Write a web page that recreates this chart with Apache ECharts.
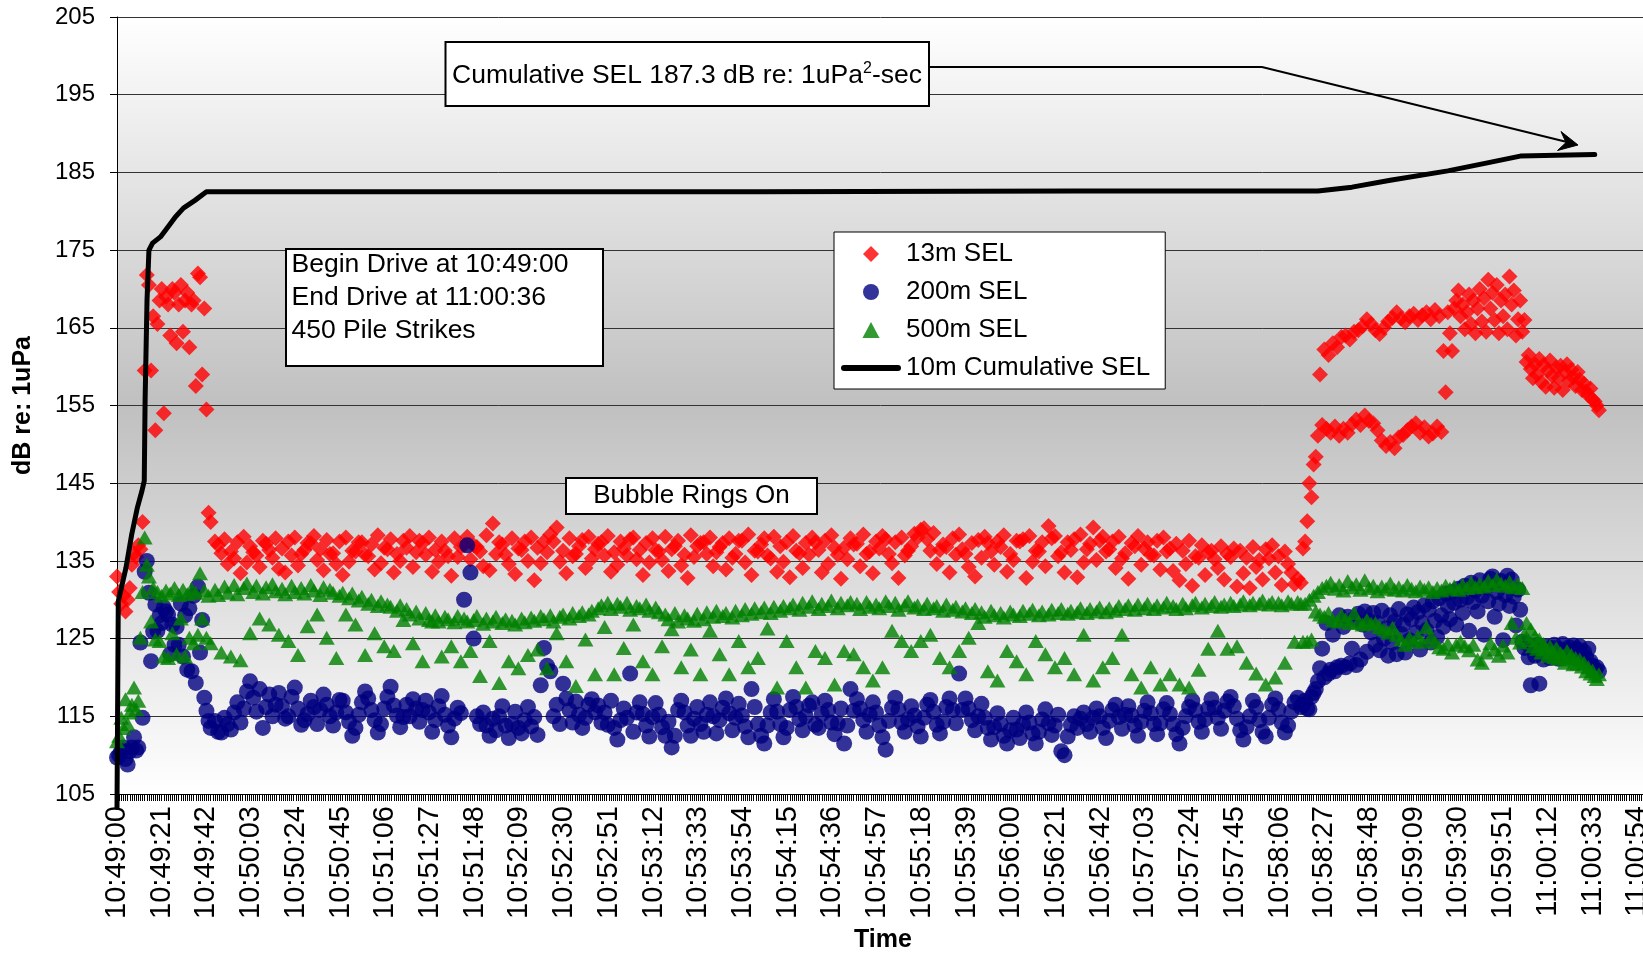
<!DOCTYPE html>
<html>
<head>
<meta charset="utf-8">
<script src="https://cdn.jsdelivr.net/npm/echarts@6.0.0/dist/echarts.min.js"></script>
<style>
  html, body { margin: 0; padding: 0; background: #fff; }
  #chart { width: 1643px; height: 955px; }
</style>
</head>
<body>
<div id="chart"></div>
<script>
// ---------- tick labels ----------
const timeTickLabels = ['10:49:00','10:49:21','10:49:42','10:50:03','10:50:24','10:50:45','10:51:06','10:51:27','10:51:48','10:52:09','10:52:30','10:52:51','10:53:12','10:53:33','10:53:54','10:54:15','10:54:36','10:54:57','10:55:18','10:55:39','10:56:00','10:56:21','10:56:42','10:57:03','10:57:24','10:57:45','10:58:06','10:58:27','10:58:48','10:59:09','10:59:30','10:59:51','11:00:12','11:00:33','11:00:54'];

// ---------- strike times (seconds after 10:49:00) ----------
const earlySec = [0,1,2,3,4,5,6,7,8,9,10,11,12,13,14,15,16,17,18,19,20,21,22,23,24,25,26,27,28,29,30,31,32,33,34,35,36,37,38,39,40,41,42,43,44];
const mainSec = [
46,47.5,49,50.5,52,53.5,55,56.5,58,59.5,61,62.5,64,65.5,67,68.5,70,71.5,73,74.5,
76,77.5,79,80.5,82,83.5,85,86.5,88,89.5,91,92.5,94,95.5,97,98.5,100,101.5,103,104.5,
106,107.5,109,110.5,112,113.5,115,116.5,118,119.5,121,122.5,124,125.5,127,128.5,130,131.5,133,134.5,
136,137.5,139,140.5,142,143.5,145,146.5,148,149.5,151,152.5,154,155.5,157,158.5,160,161.5,163,164.5,
166,167.5,169,170.5,172,173.5,175,176.5,178,179.5,181,182.5,184,185.5,187,188.5,190,191.5,193,194.5,
196,197.5,199,200.5,202,203.5,205,206.5,208,209.5,211,212.5,214,215.5,217,218.5,220,221.5,223,224.5,
226,227.5,229,230.5,232,233.5,235,236.5,238,239.5,241,242.5,244,245.5,247,248.5,250,251.5,253,254.5,
256,257.5,259,260.5,262,263.5,265,266.5,268,269.5,271,272.5,274,275.5,277,278.5,280,281.5,283,284.5,
286,287.5,289,290.5,292,293.5,295,296.5,298,299.5,301,302.5,304,305.5,307,308.5,310,311.5,313,314.5,
316,317.5,319,320.5,322,323.5,325,326.5,328,329.5,331,332.5,334,335.5,337,338.5,340,341.5,343,344.5,
346,347.5,349,350.5,352,353.5,355,356.5,358,359.5,361,362.5,364,365.5,367,368.5,370,371.5,373,374.5,
376,377.5,379,380.5,382,383.5,385,386.5,388,389.5,391,392.5,394,395.5,397,398.5,400,401.5,403,404.5,
406,407.5,409,410.5,412,413.5,415,416.5,418,419.5,421,422.5,424,425.5,427,428.5,430,431.5,433,434.5,
436,437.5,439,440.5,442,443.5,445,446.5,448,449.5,451,452.5,454,455.5,457,458.5,460,461.5,463,464.5,
466,467.5,469,470.5,472,473.5,475,476.5,478,479.5,481,482.5,484,485.5,487,488.5,490,491.5,493,494.5,
496,497.5,499,500.5,502,503.5,505,506.5,508,509.5,511,512.5,514,515.5,517,518.5,520,521.5,523,524.5,
526,527.5,529,530.5,532,533.5,535,536.5,538,539.5,541,542.5,544,545.5,547,548.5,550,551.5,553,554.5,
556];
const lateSec = [
557,558,559,560,561,562,563,564,565,566,
567,568,569,570,571,572,573,574,575,576,
577,578,579,580,581,582,583,584,585,586,
587,588,589,590,591,592,593,594,595,596,
597,598,599,600,601,602,603,604,605,606,
607,608,609,610,611,612,613,614,615,616,
617,618,619,620,621,622,623,624,625,626,
627,628,629,630,631,632,633,634,635,636,
637,638,639,640,641,642,643,644,645,646,
647,648,649,650,651,652,653,654,655,656,
657,658,659,660,661,662,663,664,665,666,
667,668,669,670,671,672,673,674,675,676,
677,678,679,680,681,682,683,684,685,686,
687,688,689,690,691,692,693,694,695,696];

// ---------- 13m SEL ----------
const sel13Early = [133,131,129.5,130.5,128.5,130,131.5,134.5,136,135.5,137,136.5,140,159.5,171.8,170.5,159.5,166.5,151.8,165.5,168.5,170,154,169,168,164,170,169.5,163,168,170.5,164.5,168.5,169.5,162.5,168,168.5,157.5,172,171.5,159,167.5,154.5,141.2,140];
const sel13Main = [
137.5,137,136,137.8,134.6,136.2,135.3,137.4,133.4,138.1,134.8,136.9,136.1,135.7,134.2,137.6,137.2,136.4,135.4,137.9,
134,136.6,133.5,137.5,135.7,138,134.4,135.9,136.4,137.3,137.3,138.2,135.1,136.5,133.8,137.7,135.9,136,134.6,137.5,
133.2,138,134.9,136.3,136.2,137.4,137.4,135.8,135.6,137.1,133.9,138.3,134.7,136.7,136.5,137.8,133.5,135.9,135,137.6,
136.7,138.2,134.2,136.1,137.6,137.3,135.8,138,133.6,136.4,134.9,137.5,136.3,135.6,133.1,137.9,135.5,136.8,137,138.1,
135.2,137,136.8,136.2,134.3,138.3,133.8,139.8,135.9,137.4,137.1,135.8,134.6,137.9,133.3,136.6,136.4,137.5,135,138,
132.5,136.7,134.7,137.5,136.1,138.4,137.5,139.3,134.9,136.3,133.4,137.9,135.6,135.9,136.9,137.7,134.1,138.1,135.3,136.5,
137.2,137.4,135.7,138.2,133.6,136.1,134.5,137.5,136.6,135.7,137.8,138,135.2,136.4,133.2,137.3,134.8,137.9,136.4,136.2,
135.1,138.1,133.7,136.5,136.9,137.6,134.4,135.8,132.8,138.3,135.5,136.9,137.3,137.4,135.9,138,134.3,136.1,136.8,137.3,
133.9,137.9,135.4,135.9,137.6,137.6,134.8,138.4,133.2,136.3,136.2,137.1,137.9,135.7,135.3,138.1,133.6,136.9,134.9,137.4,
132.9,138.2,136.3,136,134.1,137.3,135.8,138,137.4,136.4,133.5,137.6,134.6,138.3,136.7,135.8,132.7,136.7,135.2,137.9,
137.1,137.2,134.3,138.4,135.9,136.2,133.4,137.5,136.6,138.2,137.8,135.9,134.7,137.4,132.8,138,135.7,136.3,136.9,138.5,
138,139,139.2,137.8,136.3,138.6,134.6,136.4,137.1,136.8,133.5,137.9,135.8,138.4,136.5,135.9,134.2,137.3,133,137.7,
135.4,138.1,137.3,136.2,134.5,137.5,136.8,138.3,133.6,135.9,135.1,137.6,137.5,137.8,132.8,138.2,134.9,136.3,136.2,137.4,
134.3,139.5,137.9,138.2,135.6,136.1,133.5,137.4,136.4,137.8,132.9,138.4,134.8,136.5,137.2,139.3,135.1,137.6,138.1,136.2,
136.5,137.5,134.1,138.1,135.3,136,132.7,137.3,136.9,138.2,134.5,136.6,137.4,135.8,135.7,137.6,133.9,138,136.2,136.6,
133.7,137.2,132.5,136.3,134.6,137.6,131.8,135.6,135.4,137,133.2,136.1,136.3,135.2,134.1,136.9,132.6,135.9,135.5,136.6,
131.7,136.3,133.4,135.4,131.5,136.8,134.2,135.1,132.6,136.5,135.3,137,133.5,135.6,131.9,136.2,134.6,133.5,132,132.7,
132.2];
const sel13Late = [
136.6,137.5,140.1,145,143.2,147.4,148.4,151.1,159,152.5,
162.2,152,161.5,151.5,163,152.3,162.5,151.1,163.8,152,
164,151.5,163.5,152.6,164.5,153.2,164.7,152.5,165.2,153.7,
166.1,153,165.5,152.7,164.7,151.8,164.2,150.5,165,149.8,
165.8,150.3,166.3,149.5,167,150.9,166.2,151.2,165.7,151.8,
166.5,152.3,166.8,152.7,166,151.5,166.6,152.2,167,151,
166.1,151.4,167.3,152.3,166.5,151.6,162,156.7,167,164.3,
162,167.5,168.5,169.8,166.5,168,164.8,167,169.3,165.5,
168.5,164.3,167.5,170,165.8,168.8,164.5,171.2,167.5,169.5,
166,170.5,164.3,168.5,166.5,169.3,164.8,171.6,168,169.8,
164,166.1,168.5,164.5,166,160.6,161.5,159.7,158.5,160.3,
159,161,158,160.2,157.4,159.5,160.8,158.8,157.3,159.9,
158.5,160.1,157,159.3,160.3,158.2,159.6,158.6,157.5,159.3,
158.3,157,157.8,156.8,156.3,157.2,155.8,155.5,155,154.4];

// ---------- 200m SEL ----------
const sel200Early = [109.7,110,110.5,111,109.5,108.8,110.5,111,112.3,110.6,111,124.5,114.8,133.6,135,130.9,122.1,125.9,129.4,126,128,127,129,128.5,128.1,123,126.8,124.2,126.5,124.2,129.5,122.7,128,121,128.9,120.8,130.5,119.3,131.7,123.2,127.4,117.4,115.7,114.4,113.5];
const sel200Main = [
114.4,113,112.9,114.8,114,113.3,115.5,116.8,114.2,116,118.2,119.5,117.4,115.6,118.5,113.5,116.2,117.8,115,116.5,
118,116.3,114.7,115,117.5,118.7,116,113.9,114.5,115.3,117,116.2,114,115.8,117.8,116.5,115,113.8,115.5,117.1,
117,115.5,114.3,112.5,113.5,115.2,116.8,118.2,117.3,115.8,114.5,112.9,114,116,117.5,118.8,116.4,115.1,113.6,114.9,
116.5,115,117.2,116,114.3,115.8,117,115.5,113,114.5,116.3,117.6,115.2,113.8,112.3,114.7,116.1,115.4,130,137,
133.5,125,115,114,115.5,113.8,112.5,114.7,113.2,115,116.3,113.8,112.2,114,115.6,113.5,112.8,114.5,116.2,113.7,
114.9,112.6,119,123.8,121.5,120.8,115,116.5,114,119.2,117.3,115.8,114.2,116.9,115.2,113.5,114.8,116.5,117.2,115.5,
116.4,114.2,115.5,113.9,117,113.5,112,114.5,116,114.8,120.5,113,115.5,116.8,115.3,113.8,112.4,114.9,116.7,115.2,
113.6,112.5,114.3,111,112.5,115.8,117,115.5,113.8,112.5,114.7,116.2,114,113,115.2,116.8,115,112.8,114.5,116.1,
117.3,115.4,113.2,114.8,116.6,115.1,113.7,112.3,118.5,116.2,114,112.5,111.5,113.8,115.5,117.2,115.6,114,112.3,113.5,
115.8,117.5,116.2,114.6,113.2,115,116.4,116.8,113.9,113.5,115.3,117,115.8,114.2,112.7,114.1,116,111.5,113.8,118.5,
115.7,117.2,116,114.5,113,115.2,116.8,115.5,113.8,112.3,110.7,114.4,116.1,117.4,115.9,114.2,113,114.6,116.3,115.1,
113.7,112.4,114.8,116.5,117.1,115.6,113.9,112.8,114.3,116.2,117.3,115.8,114.1,120.5,115.8,117.3,116,114.5,113.2,115,
116.6,114.8,113.5,112,113.6,115.4,114,112.5,111.5,113.2,114.8,113.3,112.2,114,115.5,114.2,112.8,111.5,113,114.6,
115.9,114.1,112.6,113.8,115.2,110.5,110,112.4,113.9,115,113.5,114.7,115.5,114,113,114.8,116,115,113.5,112.2,
114.4,115.8,116.5,114.9,113.4,115.2,116.3,115.1,113.8,112.5,114.3,115.7,116.8,115.4,114,112.7,114.1,115.9,116.7,115.3,
114,112.7,111.5,113.5,115,116.2,117,115.8,114.3,113,114.6,116,117.2,116.1,114.8,113.4,115.7,116.9,117.5,116.3,
114.7,113.2,112,113.6,115,117,116.2,114.5,113,112.4,114.8,116.5,117.3,115.9,114.2,112.9,113.8,115.6,116.8,117.4,
116.2];
const sel200Late = [
116.5,117,116,115.9,117.5,118,118.5,119.5,121.2,123.7,
120,127,120.5,121,125.5,120.8,121.3,128,121.5,126.5,
121.3,127.8,121.8,123.7,127.5,121.6,128.2,122.3,126.8,128.5,
123.3,127.3,125.8,128.3,124.2,127,123.5,128.6,125,126.3,
122.8,128,124.5,127.2,123,128.8,125.6,126.8,123.2,128.1,
124.8,127.5,129,125.8,128.4,123.6,127,129.3,126.1,128.7,
124.5,129.8,127.3,125.2,130.2,128,126.5,130.8,129.2,127.5,
131,129.6,126.8,131.4,130,128.3,131.8,130.3,126,132.2,
129.7,131.2,128.5,132.5,130.5,125.5,131.6,129.8,132.7,133,
127.8,131,129.5,132.4,124.8,130.6,133.1,129.2,132.6,130.4,
126.7,131.3,128.7,124.6,123.8,124.4,122.6,119,123.9,122.8,
124.2,119.2,123.5,122.3,124,123.3,122.5,123.8,124.2,123.1,
122.4,123.6,124.3,123,122.7,123.9,123.4,124.1,122.9,123.6,
124,122.8,123.3,122.5,123.7,122.1,121.5,121,121.3,120.8];

// ---------- 500m SEL ----------
const sel500Early = [111.8,112.5,114.8,113.5,117.2,114,115.5,116.5,118.7,115.9,117,125.1,131,138,134.5,133,127.2,131.5,124.9,131,124.7,130.5,122.7,131.2,122.5,130.8,125.7,131.5,123,130.6,127.6,131.3,122.7,130.7,125.1,131.4,124.4,130.9,125.5,133.4,127.6,131.2,125.1,130.5,124.4];
const sel500Main = [
131.3,130.6,123.2,131.7,130.9,122.7,131.9,130.7,122.2,131.5,132.1,125.7,131,131.8,127.6,130.8,131.6,126.8,132,131.1,
125.5,131.4,130.7,124.7,131.8,131,122.9,131.5,130.8,126.6,131.9,131.2,128.1,130.6,131.6,125.1,131.3,130.9,122.5,130.5,
130.9,128.1,130.2,130.8,126.8,129.9,130.4,122.9,129.5,130,125.7,129.2,129.8,124,129.4,129.1,123.4,128.6,129.3,127.4,
128.8,128.1,124.4,128.5,127.6,122.1,128.3,127.4,127.2,128,127.2,122.7,127.8,127.5,124,127.1,127.9,122.1,127.6,127.2,
123.4,127.4,127.9,120.2,126.9,127.6,124.7,127.2,127.8,119.3,127,127.5,122.1,127.3,126.8,121.2,127.6,127.1,122.9,127.7,
127.3,123.6,127.9,127.5,121.2,128,127.2,125.7,127.8,128.1,122.1,127.6,128.3,118.9,127.9,128.4,124.9,128.1,128.6,120.4,
128.9,129.3,126.5,129.6,128.8,120.4,129.5,129.1,123.8,129.6,128.7,126.8,129.2,128.9,122.1,129.4,128.6,120.4,129,128.4,
124,128.1,127.5,126.2,128.3,127.2,121.3,128,127.6,123.6,127.3,128.2,120.4,127.5,128.4,126,127.8,128.6,123,127.9,
128.3,120.4,127.7,128.6,124.7,128,128.8,121.3,128.2,128.9,122.5,128.4,129,126.3,128.3,129.1,118.7,128.6,129.2,124.7,
128.9,129.4,121.3,128.7,129.6,118.7,129.1,129.8,123.4,128.8,129.5,122.5,129.2,129.9,119.1,128.9,129.6,123.4,129.3,129.7,
123,129.5,128.8,121.3,129.7,129.1,119.6,129.4,128.9,121.3,129.8,129.2,126,129.6,128.7,124.7,129.3,129.8,123.4,129,
129.3,124.7,128.8,129.5,125.5,128.9,129.2,122.5,128.6,129.4,121.3,128.7,129.1,123.4,128.5,128.9,125.1,128.3,128.8,127,
128.4,127.8,120.8,128.6,128,119.6,128.3,127.7,123.4,128.5,128.1,122.1,127.9,128.6,120.4,128.2,128.7,124.7,128,128.5,
123,128.1,128.7,121.3,128.3,128.8,122.5,128.2,128.6,120.4,128.4,128.9,125.5,128.3,128.8,119.6,128.5,129,121.3,128.4,
128.9,122.5,128.6,129.2,125.5,128.8,129.3,120.4,128.7,129.4,118.7,128.9,129.5,121.3,128.8,129.3,119.1,129,129.6,120.4,
129.2,128.8,119.1,129.5,128.9,118.7,129.3,129.6,121,129,129.5,123.7,129.2,129.7,126,129.1,129.4,123.7,129.6,129.2,
124,129.4,129.8,121.9,129.3,129.6,120.5,129.5,129.9,119.1,129.4,129.7,120,129.6,129.3,121.9,129.8,129.5,124.6,129.7,
129.5];
const sel500Late = [
124.6,129.5,124.6,130,124.9,130.5,128.5,131,128.1,131.5,
127.8,131.8,128.3,132.2,127.4,131.4,127.2,131.9,128,131.2,
127.5,132.4,127,131.6,128.3,132,127.1,131.3,126.8,132.5,
127.4,131.5,126.9,131.8,127,131.1,126.5,131.7,126.2,131.4,
125.8,132.1,126.4,131.3,125.5,131.6,124.9,131.2,124.2,131.9,
125.1,131.4,124.6,131.1,125.3,131.7,124.6,131.3,126.5,131.6,
125.2,131,124.6,131.5,123.9,131.2,123.7,131.8,124.3,131.4,
123.2,131.7,124.2,131.3,124.6,131.9,124,131.5,123.5,132.2,
124.2,131.6,122.3,132,121.9,131.7,123.2,132.4,124.4,131.9,
123.6,132.6,122.8,132.1,124.1,131.8,123.2,132.3,127,131.6,
125.1,132,124.5,131.5,125.6,127,124.8,126.2,124,125.3,
123.7,124.9,123.2,124.3,123.7,122.8,124,123.3,122.6,123.8,
122.4,123.1,122.8,121.9,123.4,122.3,122.9,121.7,122.5,121.8,
122.3,121.4,121.9,120.8,121.3,120.5,120.9,120.2,119.8,120.4];

// ---------- 10m cumulative SEL ----------
const cumSec = [0,0.6,4.2,6.9,9.6,11.7,12.8,13.2,14.1,15,16.7,20.4,24,27.5,31.2,36.6,42,150,300,450,564,580,598,625,643,659,676,694];
const cumSel = [103.3,129.8,134.1,138.4,141.9,144,145.3,155.7,168.6,175,175.9,176.7,178,179.3,180.4,181.4,182.5,182.5,182.5,182.6,182.6,183.1,184,185.2,186.2,187.1,187.2,187.3];

// ---------- build ----------
const FONT = '"Liberation Sans", Arial, Helvetica, sans-serif';
const strikeSec = earlySec.concat(mainSec, lateSec);
const zip = (vals) => strikeSec.map((t, i) => [t, vals[i]]);
const d13 = zip(sel13Early.concat(sel13Main, sel13Late));
const d200 = zip(sel200Early.concat(sel200Main, sel200Late));
const d500 = zip(sel500Early.concat(sel500Main, sel500Late));
const dCum = cumSec.map((t, i) => [t, cumSel[i]]);

const chart = echarts.init(document.getElementById('chart'), null, { renderer: 'canvas' });

const option = {
  animation: false,
  backgroundColor: '#ffffff',
  textStyle: { fontFamily: FONT, color: '#000' },
  grid: {
    left: 117, top: 17, width: 1565, height: 777,
    outerBoundsMode: 'none', containLabel: false,
    show: true, borderWidth: 0,
    backgroundColor: new echarts.graphic.LinearGradient(0, 0, 0, 1, [
      { offset: 0, color: '#ffffff' },
      { offset: 0.5, color: '#c0c0c0' },
      { offset: 1, color: '#ffffff' }
    ])
  },
  xAxis: {
    type: 'value', min: 0, max: 735, interval: 21,
    axisLine: { show: true, onZero: false, lineStyle: { color: '#000', width: 1 } },
    axisTick: { show: true, length: 7, lineStyle: { color: '#000', width: 1 } },
    minorTick: { show: true, splitNumber: 21, length: 7, lineStyle: { color: '#000', width: 1 } },
    splitLine: { show: false },
    axisLabel: {
      rotate: 90, fontSize: 29, color: '#000', margin: 12, fontFamily: FONT,
      formatter: (v) => (v % 21 === 0 && v / 21 < timeTickLabels.length) ? timeTickLabels[v / 21] : ''
    }
  },
  yAxis: {
    type: 'value', min: 105, max: 205, interval: 10,
    name: 'dB re: 1uPa', nameLocation: 'middle', nameRotate: 90, nameGap: 81,
    nameTextStyle: { fontSize: 25, fontWeight: 'bold', color: '#000', fontFamily: FONT },
    axisLine: { show: true, lineStyle: { color: '#000', width: 1 } },
    axisTick: { show: true, length: 7, lineStyle: { color: '#000' } },
    splitLine: { show: true, lineStyle: { color: '#333', width: 1 } },
    axisLabel: { fontSize: 24, color: '#000', margin: 22, fontFamily: FONT }
  },
  legend: {
    orient: 'vertical', left: 834, top: 232,
    padding: [9, 15, 8, 7], itemGap: 12, itemWidth: 60, itemHeight: 16,
    symbolKeepAspect: true,
    backgroundColor: '#ffffff', borderColor: '#000', borderWidth: 1,
    textStyle: { fontSize: 26, color: '#000', fontFamily: FONT },
    data: [
      { name: '13m SEL', icon: 'path://M0,-8 L8,0 L0,8 L-8,0 Z' },
      { name: '200m SEL', icon: 'circle' },
      { name: '500m SEL', icon: 'path://M0,-8 L8,7 L-8,7 Z' },
      { name: '10m Cumulative SEL', icon: 'path://M3,0 L57,0 A3,3 0 0 1 57,6 L3,6 A3,3 0 0 1 3,0 Z' }
    ]
  },
  series: [
    { name: '13m SEL', type: 'scatter', symbol: 'diamond', symbolSize: 16,
      itemStyle: { color: '#ff0000' }, data: d13 },
    { name: '200m SEL', type: 'scatter', symbol: 'circle', symbolSize: 16,
      itemStyle: { color: '#000080' }, data: d200 },
    { name: '500m SEL', type: 'scatter', symbol: 'triangle', symbolSize: [16, 14],
      itemStyle: { color: '#008000' }, data: d500 },
    { name: '10m Cumulative SEL', type: 'line', symbol: 'none', showSymbol: false, clip: false,
      lineStyle: { color: '#000', width: 5, cap: 'round', join: 'round' },
      itemStyle: { color: '#000' }, data: dCum }
  ],
  graphic: [
    { type: 'rect', z: 100, shape: { x: 445.5, y: 42, width: 483.5, height: 64 },
      style: { fill: '#fff', stroke: '#000', lineWidth: 2 } },
    { type: 'text', z: 101, x: 452, y: 76,
      style: {
        text: '{a|Cumulative SEL 187.3 dB re: 1uPa}{s|2}{a|-sec}',
        verticalAlign: 'middle', align: 'left',
        rich: {
          a: { fontSize: 26.5, fontFamily: FONT, fill: '#000' },
          s: { fontSize: 16, fontFamily: FONT, fill: '#000', padding: [0, 0, 14, 0] }
        }
      } },
    { type: 'polyline', z: 100, shape: { points: [[929, 67], [1262, 67], [1568, 142.3]] },
      style: { stroke: '#000', lineWidth: 2, fill: null } },
    { type: 'polygon', z: 100, shape: { points: [[1578, 145], [1561, 131.5], [1566, 142.6], [1557.5, 150.5]] },
      style: { fill: '#000', stroke: '#000', lineWidth: 1 } },
    { type: 'rect', z: 100, shape: { x: 286, y: 249, width: 317, height: 117 },
      style: { fill: '#fff', stroke: '#000', lineWidth: 2 } },
    { type: 'text', z: 101, x: 291.5, y: 248.5,
      style: { text: 'Begin Drive at 10:49:00\nEnd Drive at 11:00:36\n450 Pile Strikes',
        fontSize: 26.5, fontFamily: FONT, fill: '#000', lineHeight: 33, verticalAlign: 'top', align: 'left' } },
    { type: 'rect', z: 100, shape: { x: 566, y: 478, width: 251, height: 36 },
      style: { fill: '#fff', stroke: '#000', lineWidth: 2 } },
    { type: 'text', z: 101, x: 691.5, y: 496,
      style: { text: 'Bubble Rings On', fontSize: 26, fontFamily: FONT, fill: '#000',
        align: 'center', verticalAlign: 'middle' } },
    { type: 'text', z: 101, x: 883, y: 940,
      style: { text: 'Time', fontSize: 25, fontWeight: 'bold', fontFamily: FONT, fill: '#000',
        align: 'center', verticalAlign: 'middle' } }
  ]
};

chart.setOption(option);
</script>
</body>
</html>
